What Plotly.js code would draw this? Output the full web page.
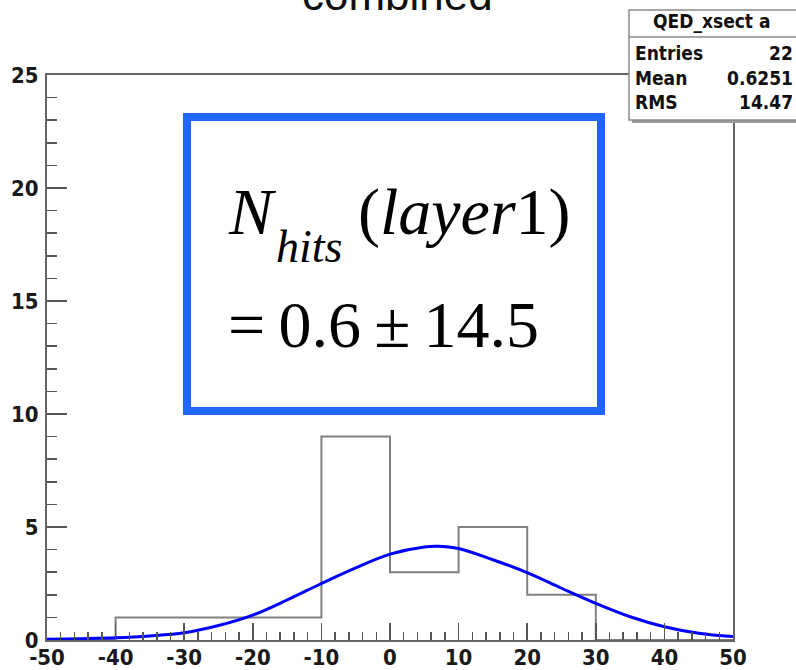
<!DOCTYPE html>
<html>
<head>
<meta charset="utf-8">
<script src="https://cdn.plot.ly/plotly-3.0.1.min.js"></script>
<style>html,body{margin:0;padding:0;background:#fff;}#chart{width:796px;height:670px;}</style>
</head>
<body>
<div id="chart"></div>
<script>
// ---- data ----
const binEdges = [-50, -40, -30, -20, -10, 0, 10, 20, 30, 40, 50];
const counts = [0, 1, 1, 1, 9, 3, 5, 2, 0, 0];
const fitX = [-50, -45, -40, -35, -30, -25, -20, -15, -10, -5, 0, 5, 7, 10, 15, 20, 25, 30, 35, 40, 45, 50];
const fitY = [0.03, 0.06, 0.1, 0.18, 0.32, 0.64, 1.1, 1.77, 2.5, 3.19, 3.8, 4.12, 4.15, 4.05, 3.55, 2.98, 2.29, 1.62, 1.03, 0.59, 0.3, 0.15];
const xTicks = [-50, -40, -30, -20, -10, 0, 10, 20, 30, 40, 50];
const yTicks = [0, 5, 10, 15, 20, 25];
const titleText = "combined";
const statsTitle = "QED_xsect a";
const statsNames = ["Entries", "Mean", "RMS"];
const statsValues = ["22", "0.6251", "14.47"];
const boxLine1 = "<i>N</i>";
const boxSub = "<i>hits</i>";
const boxLine1b = "(<i>layer</i>1)";
const boxLine2 = "=\u20090.6\u2009\u00b1\u200914.5";

// ---- layout geometry (pixels) ----
const W = 796, H = 670, L = 47, R = 733, T = 75, B = 640;
const px = v => (v - L) / (R - L);
const py = v => (B - v) / (B - T);

const stepX = binEdges.slice();
const stepY = counts.concat([0]);

const traces = [
  {x: stepX, y: stepY, type: 'scatter', mode: 'lines', line: {shape: 'hv', color: '#808080', width: 2}, hoverinfo: 'skip'},
  {x: fitX, y: fitY, type: 'scatter', mode: 'lines', line: {shape: 'spline', color: '#0000ff', width: 3}, hoverinfo: 'skip'}
];

const narrow = '"DejaVu Sans Condensed", "Liberation Sans Narrow", "Arial Narrow", "Liberation Sans", sans-serif';
const tickFont = {family: narrow, size: 22, color: '#1a1a1a', weight: 'bold', stretch: 'condensed'};
const statFont = {family: narrow, size: 19, color: '#111', weight: 'bold', stretch: 'condensed'};
const serif = '"Liberation Serif", "DejaVu Serif", serif';

const annotations = [
  {text: titleText, xref: 'paper', yref: 'paper', x: px(398), y: py(-6), xanchor: 'center', yanchor: 'middle', showarrow: false, font: {family: '"Liberation Sans", Arial, sans-serif', size: 44, color: '#111'}},
  {text: statsTitle, xref: 'paper', yref: 'paper', x: px(712), y: py(22), xanchor: 'center', yanchor: 'middle', showarrow: false, font: statFont},
  {text: boxLine1, xref: 'paper', yref: 'paper', x: px(226), y: py(212), xanchor: 'left', yanchor: 'middle', showarrow: false, font: {family: serif, size: 66, color: '#000'}},
  {text: boxSub, xref: 'paper', yref: 'paper', x: px(274), y: py(246), xanchor: 'left', yanchor: 'middle', showarrow: false, font: {family: serif, size: 46, color: '#000'}},
  {text: boxLine1b, xref: 'paper', yref: 'paper', x: px(356), y: py(212), xanchor: 'left', yanchor: 'middle', showarrow: false, font: {family: serif, size: 66, color: '#000'}},
  {text: boxLine2, xref: 'paper', yref: 'paper', x: px(226), y: py(324), xanchor: 'left', yanchor: 'middle', showarrow: false, font: {family: serif, size: 66, color: '#000'}}
];
const rowY = [53, 78, 102];
statsNames.forEach((n, i) => {
  annotations.push({text: n, xref: 'paper', yref: 'paper', x: px(633), y: py(rowY[i]), xanchor: 'left', yanchor: 'middle', showarrow: false, font: statFont});
  annotations.push({text: statsValues[i], xref: 'paper', yref: 'paper', x: px(795), y: py(rowY[i]), xanchor: 'right', yanchor: 'middle', showarrow: false, font: statFont});
});

const shapes = [
  // stats box shadow + box
  {type: 'rect', xref: 'paper', yref: 'paper', x0: px(632), x1: px(810), y0: py(13), y1: py(123), fillcolor: '#9a9a9a', line: {width: 0}, layer: 'above'},
  {type: 'rect', xref: 'paper', yref: 'paper', x0: px(629), x1: px(810), y0: py(10), y1: py(120), fillcolor: '#ffffff', line: {color: '#8a8a8a', width: 1.5}, layer: 'above'},
  {type: 'line', xref: 'paper', yref: 'paper', x0: px(629), x1: px(810), y0: py(37), y1: py(37), line: {color: '#8a8a8a', width: 1.5}, layer: 'above'},
  // blue box
  {type: 'rect', xref: 'paper', yref: 'paper', x0: px(187), x1: px(601), y0: py(117), y1: py(411), fillcolor: '#ffffff', line: {color: '#1f66ff', width: 8}, layer: 'above'}
];

const layout = {
  width: W, height: H,
  margin: {l: L, r: W - R, t: T, b: H - B, pad: 0},
  paper_bgcolor: '#ffffff', plot_bgcolor: '#ffffff',
  showlegend: false,
  xaxis: {
    range: [-50, 50], tickvals: xTicks, ticktext: xTicks.map(String),
    ticks: 'inside', ticklen: 17, tickwidth: 1.5, tickcolor: '#555',
    minor: {dtick: 2, tick0: 0, ticks: 'inside', ticklen: 8, tickwidth: 1.5, tickcolor: '#555', showgrid: false},
    showgrid: false, zeroline: false, showline: true, linecolor: '#666', linewidth: 2, mirror: true,
    tickfont: tickFont, ticklabelstandoff: -3, fixedrange: true
  },
  yaxis: {
    range: [0, 25], tickvals: yTicks, ticktext: yTicks.map(String),
    ticks: 'inside', ticklen: 20, tickwidth: 1.5, tickcolor: '#555',
    minor: {dtick: 1, tick0: 0, ticks: 'inside', ticklen: 10, tickwidth: 1.5, tickcolor: '#555', showgrid: false},
    showgrid: false, zeroline: false, showline: true, linecolor: '#666', linewidth: 2, mirror: true,
    tickfont: tickFont, ticklabelstandoff: 2, fixedrange: true
  },
  annotations: annotations,
  shapes: shapes
};

Plotly.newPlot('chart', traces, layout, {displayModeBar: false, staticPlot: true});
</script>
</body>
</html>
